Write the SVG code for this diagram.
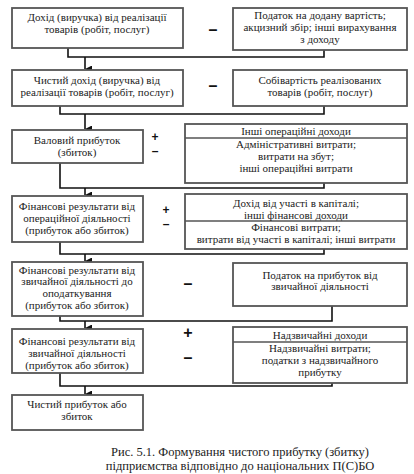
<svg xmlns="http://www.w3.org/2000/svg" width="414" height="474" viewBox="0 0 414 474">
<style>
  .box{fill:#fff;stroke:#555;stroke-width:1.8}
  .div{stroke:#555;stroke-width:1.5;fill:none}
  .t{font-family:'Liberation Serif','DejaVu Serif',serif;font-size:11px;fill:#222;text-anchor:middle}
  .sign{font-family:'Liberation Sans','DejaVu Sans',sans-serif;font-size:16px;fill:#111;text-anchor:middle;font-weight:bold}
  .sm{font-size:12px}
  .cap{font-family:'Liberation Serif','DejaVu Serif',serif;font-size:12.5px;fill:#222;text-anchor:middle}
  .c{stroke:#111;stroke-width:1.6;fill:none}
</style>
<defs>
  <marker id="arr" viewBox="0 0 8 8" refX="4" refY="8" markerWidth="7" markerHeight="7" markerUnits="userSpaceOnUse" orient="auto-start-reverse">
    <path d="M0,0 L8,0 L4,8 Z" fill="#111"/>
  </marker>
</defs>
<rect width="414" height="474" fill="#fff"/>

<g id="connectors">
  <path class="c" d="M68,48 V57 H324 V50"/>
  <path class="c" d="M85,57 V69" marker-end="url(#arr)"/>
  <path class="c" d="M60,106 V114 H324 V106"/>
  <path class="c" d="M85,114 V129" marker-end="url(#arr)"/>
  <path class="c" d="M60,163 V188 H324 V183"/>
  <path class="c" d="M85,188 V195" marker-end="url(#arr)"/>
  <path class="c" d="M60,242 V254 H324 V249"/>
  <path class="c" d="M85,254 V261" marker-end="url(#arr)"/>
  <path class="c" d="M60,316 V321 H332 V306"/>
  <path class="c" d="M85,321 V328" marker-end="url(#arr)"/>
  <path class="c" d="M60,373 V386 H332 V383"/>
  <path class="c" d="M85,386 V394" marker-end="url(#arr)"/>
</g>

<g id="n1">
  <rect class="box" x="12" y="8" width="171" height="40"/>
  <text class="t" x="97" y="21">Дохід (виручка) від реалізації</text>
  <text class="t" x="97" y="33">товарів (робіт, послуг)</text>
</g>
<g id="s1"><text class="sign" x="213" y="35">–</text></g>
<g id="r1">
  <rect class="box" x="233" y="8" width="174" height="42"/>
  <text class="t" x="320" y="19">Податок на додану вартість;</text>
  <text class="t" x="320" y="31">акцизний збір; інші вирахування</text>
  <text class="t" x="320" y="43">з доходу</text>
</g>

<g id="n2">
  <rect class="box" x="12" y="70" width="171" height="36"/>
  <text class="t" x="97" y="84">Чистий дохід (виручка) від</text>
  <text class="t" x="97" y="96">реалізації товарів (робіт, послуг)</text>
</g>
<g id="s2"><text class="sign" x="213" y="91">–</text></g>
<g id="r2">
  <rect class="box" x="233" y="70" width="174" height="36"/>
  <text class="t" x="320" y="84">Собівартість реалізованих</text>
  <text class="t" x="320" y="96">товарів (робіт, послуг)</text>
</g>

<g id="n3">
  <rect class="box" x="12" y="130" width="131" height="33"/>
  <text class="t" x="77" y="144">Валовий прибуток</text>
  <text class="t" x="77" y="156">(збиток)</text>
</g>
<g id="s3">
  <text class="sign sm" x="155" y="141">+</text>
  <text class="sign sm" x="155" y="155">–</text>
</g>
<g id="r3">
  <rect class="box" x="185" y="124" width="222" height="59"/>
  <line class="div" x1="185" y1="138" x2="407" y2="138"/>
  <text class="t" x="296" y="135">Інші операційні доходи</text>
  <text class="t" x="296" y="148">Адміністративні витрати;</text>
  <text class="t" x="296" y="160">витрати на збут;</text>
  <text class="t" x="296" y="172">інші операційні витрати</text>
</g>

<g id="n4">
  <rect class="box" x="12" y="196" width="131" height="46"/>
  <text class="t" x="77" y="210">Фінансові результати від</text>
  <text class="t" x="77" y="222">операційної діяльності</text>
  <text class="t" x="77" y="234">(прибуток або збиток)</text>
</g>
<g id="s4">
  <text class="sign sm" x="166" y="214">+</text>
  <text class="sign sm" x="166" y="228">–</text>
</g>
<g id="r4">
  <rect class="box" x="185" y="194" width="222" height="55"/>
  <line class="div" x1="185" y1="221" x2="407" y2="221"/>
  <text class="t" x="296" y="207">Дохід від участі в капіталі;</text>
  <text class="t" x="296" y="219">інші фінансові доходи</text>
  <text class="t" x="296" y="231">Фінансові витрати;</text>
  <text class="t" x="296" y="243">витрати від участі в капіталі; інші витрати</text>
</g>

<g id="n5">
  <rect class="box" x="12" y="262" width="131" height="54"/>
  <text class="t" x="77" y="274">Фінансові результати від</text>
  <text class="t" x="77" y="285">звичайної  діяльності до</text>
  <text class="t" x="77" y="297">оподаткування</text>
  <text class="t" x="77" y="309">(прибуток або збиток)</text>
</g>
<g id="s5"><text class="sign" x="188" y="289">–</text></g>
<g id="r5">
  <rect class="box" x="233" y="263" width="174" height="43"/>
  <text class="t" x="320" y="279">Податок на прибуток від</text>
  <text class="t" x="320" y="290">звичайної діяльності</text>
</g>

<g id="n6">
  <rect class="box" x="12" y="329" width="131" height="44"/>
  <text class="t" x="77" y="345">Фінансові результати від</text>
  <text class="t" x="77" y="357">звичайної  діяльності</text>
  <text class="t" x="77" y="369">(прибуток або збиток)</text>
</g>
<g id="s6">
  <text class="sign" x="188" y="338">+</text>
  <text class="sign" x="188" y="363">–</text>
</g>
<g id="r6">
  <rect class="box" x="233" y="327" width="174" height="56"/>
  <line class="div" x1="233" y1="342" x2="407" y2="342"/>
  <text class="t" x="320" y="339">Надзвичайні доходи</text>
  <text class="t" x="320" y="352">Надзвичайні витрати;</text>
  <text class="t" x="320" y="364">податки з надзвичайного</text>
  <text class="t" x="320" y="376">прибутку</text>
</g>

<g id="n7">
  <rect class="box" x="12" y="395" width="131" height="35"/>
  <text class="t" x="77" y="408">Чистий прибуток або</text>
  <text class="t" x="77" y="420">збиток</text>
</g>

<g id="caption">
  <text class="cap" x="240" y="456">Рис. 5.1. Формування чистого прибутку (збитку)</text>
  <text class="cap" x="240" y="470">підприємства відповідно до національних П(С)БО</text>
</g>
</svg>
